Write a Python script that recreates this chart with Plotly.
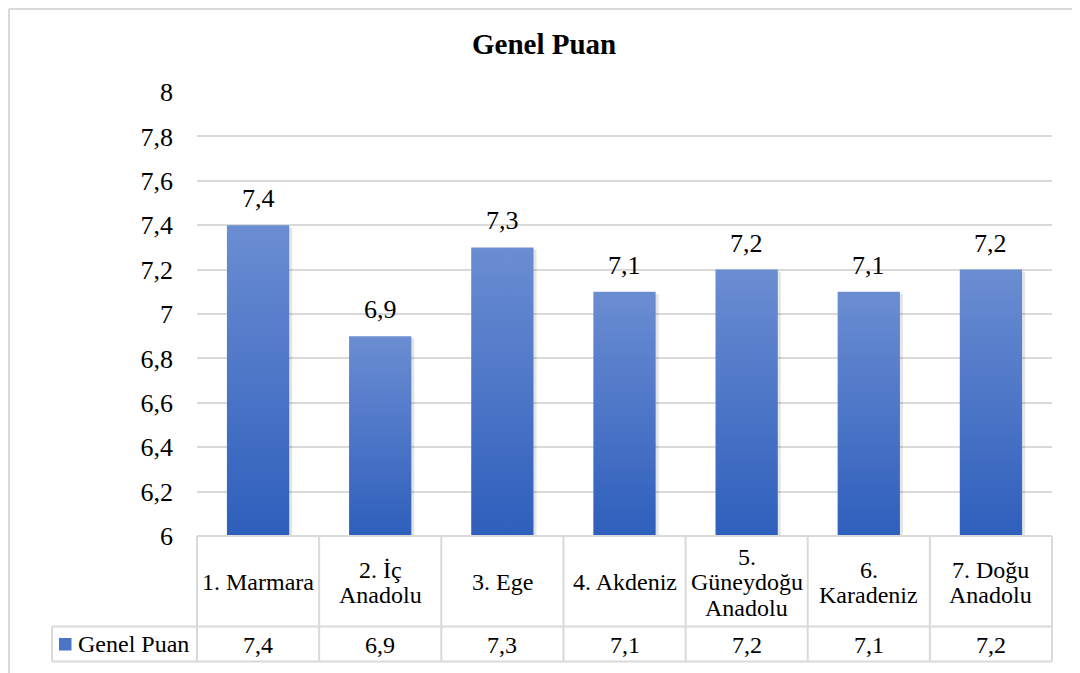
import plotly.graph_objects as go

# ---- data ----
categories = ["1. Marmara", "2. İç<br>Anadolu", "3. Ege", "4. Akdeniz",
              "5.<br>Güneydoğu<br>Anadolu", "6.<br>Karadeniz", "7. Doğu<br>Anadolu"]
values = [7.4, 6.9, 7.3, 7.1, 7.2, 7.1, 7.2]
series_name = "Genel Puan"
title_text = "Genel Puan"
y_min, y_max, y_step = 6, 8, 0.2

# ---- layout geometry (page pixels; the figure sits at an 8px body offset) ----
OFF = 8
W_PX, H_PX = 1080 - OFF, 673 - OFF
L, R_EDGE, T, B = 197, 1052, 92, 536
PW, PH = R_EDGE - L, B - T
FONT = "Liberation Serif"
GRID = "#d9d9d9"
BAR_TOP = "#6b8dd2"
BAR_BOT = "#2e5fbc"
BAR_W = 0.51


def px(xp):
    return (xp - L) / PW


def py(yp):
    return (B - yp) / PH


def fmt(v):
    return f"{v:.1f}".replace(".", ",")


fig = go.Figure()

n = len(values)
for i, v in enumerate(values):
    x0, x1 = i - BAR_W / 2, i + BAR_W / 2
    # soft shadow
    fig.add_trace(go.Scatter(
        x=[x0 + 0.02, x0 + 0.02, x1 + 0.025, x1 + 0.025, x0 + 0.02],
        y=[y_min, v - 0.01, v - 0.01, y_min, y_min],
        fill="toself", mode="none", fillcolor="rgba(0,0,0,0.10)",
        hoverinfo="skip", showlegend=False))
    fig.add_trace(go.Scatter(
        x=[x0, x0, x1, x1, x0],
        y=[y_min, v, v, y_min, y_min],
        fill="toself", mode="none",
        fillgradient=dict(type="vertical", start=y_min, stop=v,
                          colorscale=[[0, BAR_BOT], [1, BAR_TOP]]),
        hoverinfo="skip", showlegend=False, name=categories[i]))

annotations = []
# data labels
for i, v in enumerate(values):
    annotations.append(dict(x=i, y=v, xref="x", yref="y", text=fmt(v),
                            showarrow=False, yanchor="bottom", yshift=10,
                            font=dict(family=FONT, size=26, color="#000")))

# title
annotations.append(dict(x=px(544), y=py(44), xref="paper", yref="paper",
                        text=f"<b>{title_text}</b>", showarrow=False,
                        xanchor="center", yanchor="middle",
                        font=dict(family=FONT, size=29, color="#000")))

shapes = []
line = dict(color=GRID, width=2)
col_w = PW / n
row1_bot = 626.5
row2_bot = 661.5
LEG_L = 52

# table horizontal lines
shapes.append(dict(type="line", xref="paper", yref="paper", x0=px(L), x1=px(R_EDGE),
                   y0=py(B), y1=py(B), line=line))
for yy in (row1_bot, row2_bot):
    shapes.append(dict(type="line", xref="paper", yref="paper", x0=px(LEG_L), x1=px(R_EDGE),
                       y0=py(yy), y1=py(yy), line=line))
# vertical lines
for k in range(n + 1):
    xx = L + k * col_w
    shapes.append(dict(type="line", xref="paper", yref="paper", x0=px(xx), x1=px(xx),
                       y0=py(B), y1=py(row2_bot), line=line))
shapes.append(dict(type="line", xref="paper", yref="paper", x0=px(LEG_L), x1=px(LEG_L),
                   y0=py(row1_bot), y1=py(row2_bot), line=line))

# outer chart border (top and left)
shapes.append(dict(type="line", xref="paper", yref="paper", x0=px(OFF + 1), x1=px(1085),
                   y0=py(OFF + 1), y1=py(OFF + 1), line=dict(color=GRID, width=2)))
shapes.append(dict(type="line", xref="paper", yref="paper", x0=px(OFF + 1), x1=px(OFF + 1),
                   y0=py(OFF + 1), y1=py(690), line=dict(color=GRID, width=2)))

# legend key
shapes.append(dict(type="rect", xref="paper", yref="paper", x0=px(59), x1=px(71.5),
                   y0=py(650.5), y1=py(638), line=dict(width=0), fillcolor="#4a74c6"))
annotations.append(dict(x=px(76), y=py(644), xref="paper", yref="paper",
                        text=series_name, showarrow=False, xanchor="left", yanchor="middle",
                        font=dict(family=FONT, size=24, color="#000")))

# table cells
LINE_H = 25.5
cat_mid = (B + row1_bot) / 2 + 1
val_mid = (row1_bot + row2_bot) / 2 + 1
for i, (c, v) in enumerate(zip(categories, values)):
    cx = L + (i + 0.5) * col_w
    lines_ = c.split("<br>")
    k = len(lines_)
    for j, t in enumerate(lines_):
        yy = cat_mid + (j - (k - 1) / 2) * LINE_H
        annotations.append(dict(x=px(cx), y=py(yy), xref="paper", yref="paper",
                                text=t, showarrow=False, xanchor="center", yanchor="middle",
                                font=dict(family=FONT, size=24, color="#000")))
    annotations.append(dict(x=px(cx), y=py(val_mid), xref="paper", yref="paper",
                            text=fmt(v), showarrow=False, xanchor="center", yanchor="middle",
                            font=dict(family=FONT, size=24, color="#000")))

fig.update_layout(
    width=W_PX, height=H_PX,
    margin=dict(l=L - OFF, r=W_PX + OFF - R_EDGE, t=T - OFF, b=H_PX + OFF - B, pad=0),
    paper_bgcolor="white", plot_bgcolor="white",
    font=dict(family=FONT),
    separators=",.",
    showlegend=False,
    xaxis=dict(range=[-0.5, n - 0.5], showgrid=False, zeroline=False,
               showticklabels=False, ticks="", showline=False, fixedrange=True),
    yaxis=dict(range=[y_min, y_max], dtick=y_step, tick0=y_min, showgrid=True,
               gridcolor=GRID, gridwidth=2, zeroline=False, showline=False,
               ticks="", ticklabelstandoff=23, tickformat=".1~f",
               tickfont=dict(family=FONT, size=26, color="#000"), fixedrange=True),
    annotations=annotations,
    shapes=shapes,
)

fig.write_html("out.html")
